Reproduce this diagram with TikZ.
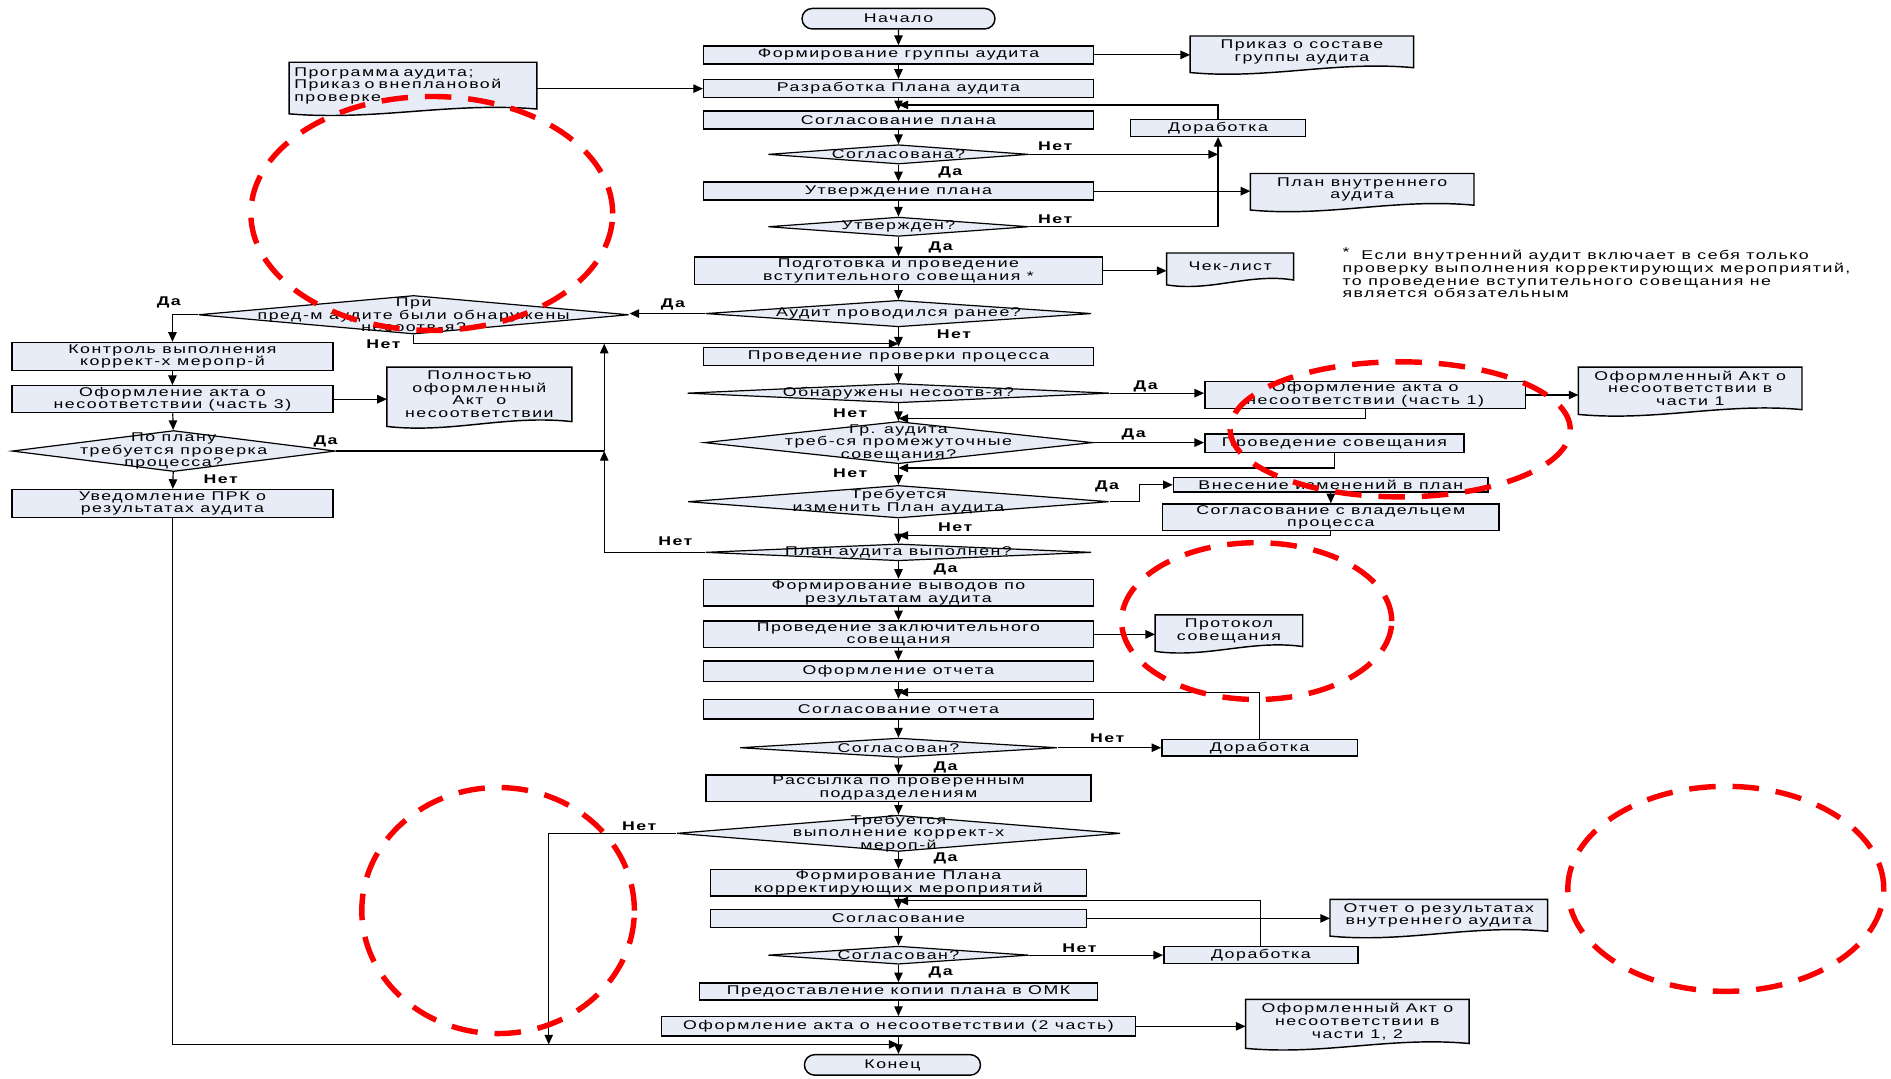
\documentclass[tikz,border=0pt]{standalone}
\usepackage{fontspec}
\newfontfamily\flowfont[FakeStretch=1.4,LetterSpace=12]{Liberation Sans}
\usepackage{tikz}
\usetikzlibrary{arrows.meta,shapes.geometric,shapes.misc,calc,backgrounds}

\definecolor{boxfill}{RGB}{232,236,246}
\definecolor{ringred}{RGB}{250,0,0}

\newcommand{\txt}{\flowfont\fontsize{10.5}{10.5}\selectfont}

% document outline with wavy bottom, drawn round a named node
\newcommand{\wavedoc}[1]{%
  \draw[line width=1.2pt, fill=boxfill] (#1.north west) -- (#1.north east) -- (#1.south east)
    .. controls ($(#1.south east)!0.35!(#1.south west)+(0,-6)$) and ($(#1.south east)!0.65!(#1.south west)+(0,10)$) .. ($(#1.south west)+(0,4)$) -- cycle;}

\tikzset{
  box/.style={draw, fill=boxfill, line width=1.2pt, inner sep=1pt, align=center, font=\txt, minimum height=15pt},
  dia/.style={diamond, draw, fill=boxfill, line width=1pt, inner sep=0pt},
  dtext/.style={font=\txt, align=center, inner sep=0pt},
  doc/.style={inner sep=3pt, align=center, font=\txt},
  term/.style={rounded rectangle, draw, fill=boxfill, line width=1.2pt, font=\txt, minimum height=17pt, inner sep=1pt},
  lbl/.style={font=\txt\bfseries, inner sep=0pt},
  flow/.style={line width=1pt, -{Triangle[length=8pt,width=7pt]}},
  line/.style={line width=1pt},
  ring/.style={draw=ringred, line width=4.5pt, dash pattern=on 22pt off 14pt},
}

\begin{document}
\begin{tikzpicture}[x=1pt,y=-1pt]

    \useasboundingbox (0,0) rectangle (1568,894);

    % main column, top part
    \node[term, minimum width=162pt] (start) at (745,15.5) {Начало};
    \node[box, minimum width=323pt] (team) at (745,45.5) {Формирование группы аудита};
    \node[doc, minimum width=185pt, minimum height=22pt] (teamdoc) at (1079.5,43) {Приказ о составе\\группы аудита};
    \node[doc, text width=197pt, align=left, minimum height=32pt, inner sep=4pt] (progdoc) at (342.5,71) {Программа аудита;\\Приказ о внеплановой\\проверке};
    \node[box, minimum width=323pt] (plan) at (745,73.5) {Разработка Плана аудита};
    \node[box, minimum width=323pt] (agree) at (745,99.5) {Согласование плана};
    \node[box, minimum width=145pt, minimum height=14pt] (rework1) at (1010,106) {Доработка};
    \node[dia, minimum width=216pt, minimum height=16pt, label={[dtext]center:Согласована?}] (qagreed) at (745,128) {};
    \node[box, minimum width=323pt] (approve) at (745,158.5) {Утверждение плана};
    \node[doc, minimum width=185pt, minimum height=20pt] (plandoc) at (1129.5,157) {План внутреннего\\аудита};
    \node[dia, minimum width=216pt, minimum height=16pt, label={[dtext]center:Утвержден?}] (qapproved) at (745,188) {};
    \node[box, minimum width=338pt, minimum height=23pt] (prep) at (745,224.5) {Подготовка и проведение\\вступительного совещания *};
    \node[doc, minimum width=105pt, minimum height=22pt] (checklist) at (1020,221) {Чек-лист};
    \node[font=\txt, align=left, anchor=north west, inner sep=0pt] (note) at (1113,205)
        {\raisebox{3pt}{*}\hspace{10pt}Если внутренний аудит включает в себя только\\проверку выполнения корректирующих мероприятий,\\то проведение вступительного совещания не\\является обязательным};
    \node[dia, minimum width=320pt, minimum height=22pt, label={[dtext]center:Аудит проводился ранее?}] (qearlier) at (745,260) {};
    \node[dia, minimum width=357pt, minimum height=32pt, label={[dtext]center:{При\\пред-м аудите были обнаружены\\несоотв-я?}}] (qprior) at (343,261) {};

    % left column
    \node[box, minimum width=266pt, minimum height=23pt] (control) at (143,295.5) {Контроль выполнения\\коррект-х меропр-й};
    \node[box, minimum width=266pt, minimum height=22pt] (act3) at (143,331) {Оформление акта о\\несоответствии (часть 3)};
    \node[doc, minimum width=153pt, minimum height=42pt] (act3doc) at (397.5,327) {Полностью\\оформленный\\Акт\quad о\\несоответствии};
    \node[dia, minimum width=268pt, minimum height=34pt, label={[dtext]center:{По плану\\требуется проверка\\процесса?}}] (qbyplan) at (144,374) {};
    \node[box, minimum width=266pt, minimum height=23pt] (notify) at (143,417.5) {Уведомление ПРК о\\результатах аудита};

    % main column, audit itself
    \node[box, minimum width=323pt] (check) at (745,295.5) {Проведение проверки процесса};
    \node[dia, minimum width=350pt, minimum height=16pt, label={[dtext]center:Обнаружены несоотв-я?}] (qfound) at (745,326) {};
    \node[box, minimum width=266pt, minimum height=19pt] (act1) at (1132,327.5) {Оформление акта о\\несоответствии (часть 1)};
    \node[doc, minimum width=185pt, minimum height=30pt] (act1doc) at (1401.5,322) {Оформленный Акт о\\несоответствии в\\части 1};
    \node[dia, minimum width=322pt, minimum height=35pt, label={[dtext]center:{Гр. аудита\\треб-ся промежуточные\\совещания?}}] (qmeet) at (745,367) {};
    \node[box, minimum width=215pt] (meet) at (1106.5,367.5) {Проведение совещания};
    \node[dia, minimum width=349pt, minimum height=27pt, label={[dtext]center:{Требуется\\изменить План аудита}}] (qchange) at (745,416) {};
    \node[box, minimum width=261pt, minimum height=12pt] (change) at (1103.5,402) {Внесение изменений в план};
    \node[box, minimum width=279pt, minimum height=20pt] (owner) at (1103.5,429) {Согласование с владельцем\\процесса};
    \node[dia, minimum width=320pt, minimum height=14pt, label={[dtext]center:План аудита выполнен?}] (qdone) at (745,458) {};

    % main column, closing part
    \node[box, minimum width=323pt, minimum height=21pt] (concl) at (745,491.5) {Формирование выводов по\\результатам аудита};
    \node[box, minimum width=323pt, minimum height=22pt] (final) at (745,526) {Проведение заключительного\\совещания};
    \node[doc, minimum width=122pt, minimum height=22pt] (protocol) at (1019,523) {Протокол\\совещания};
    \node[box, minimum width=323pt, minimum height=17pt] (report) at (745,556.5) {Оформление отчета};
    \node[box, minimum width=323pt, minimum height=16pt] (repagree) at (745,588) {Согласование отчета};
    \node[dia, minimum width=263pt, minimum height=16pt, label={[dtext]center:Согласован?}] (qrep) at (745,620) {};
    \node[box, minimum width=162pt, minimum height=14pt] (rework2) at (1044.5,620) {Доработка};
    \node[box, minimum width=319pt, minimum height=21pt] (mailing) at (745,653.5) {Рассылка по проверенным\\подразделениям};
    \node[dia, minimum width=368pt, minimum height=30pt, label={[dtext]center:{Требуется\\выполнение коррект-х\\мероп-й}}] (qcorr) at (745,691) {};
    \node[box, minimum width=312pt, minimum height=20pt] (corrplan) at (745,732) {Формирование Плана\\корректирующих мероприятий};
    \node[box, minimum width=312pt, minimum height=15pt] (corragree) at (745,761.5) {Согласование};
    \node[doc, minimum width=180pt, minimum height=21pt] (repdoc) at (1193,759) {Отчет о результатах\\внутреннего аудита};
    \node[dia, minimum width=216pt, minimum height=15pt, label={[dtext]center:Согласован?}] (qcorragreed) at (745,792) {};
    \node[box, minimum width=161pt, minimum height=14pt] (rework3) at (1045.5,792) {Доработка};
    \node[box, minimum width=330pt, minimum height=14pt] (copyomk) at (745,822) {Предоставление копии плана в ОМК};
    \node[box, minimum width=393pt, minimum height=16pt] (act2) at (745,851) {Оформление акта о несоответствии (2 часть)};
    \node[doc, minimum width=185pt, minimum height=28pt] (act2doc) at (1125.5,847) {Оформленный Акт о\\несоответствии в\\части 1, 2};
    \node[term, minimum width=148pt] (finish) at (740,883) {Конец};

    % wavy documents behind their texts
    \begin{scope}[on background layer]
        \wavedoc{teamdoc}
        \wavedoc{progdoc}
        \wavedoc{plandoc}
        \wavedoc{checklist}
        \wavedoc{act3doc}
        \wavedoc{act1doc}
        \wavedoc{protocol}
        \wavedoc{repdoc}
        \wavedoc{act2doc}
    \end{scope}

    % junctions on the main column
    \coordinate (jplan) at (745,87);
    \coordinate (jcheck) at (745,285);
    \coordinate (jloop) at (501,374);
    \coordinate (jact) at (745,347);
    \coordinate (jmeet) at (745,388);
    \coordinate (jowner) at (745,444);
    \coordinate (jrep) at (745,574);
    \coordinate (jcorr) at (745,747);
    \coordinate (jend) at (745,866);
    \coordinate (jleft) at (455,866);

    \draw[flow] (start) -- (team);
    \draw[flow] (team.east) -- (team.east -| teamdoc.west);
    \draw[flow] (team) -- (plan);
    \draw[flow] (progdoc.east |- plan) -- (plan.west);
    \draw[flow] (plan) -- (agree);
    \draw[flow] (agree) -- (qagreed);
    \draw[flow] (qagreed.east) -- (qagreed -| rework1.south);
    \draw[flow] (qapproved.east) -| (rework1.south);
    \draw[flow] (rework1.north) |- (jplan);
    \draw[flow] (qagreed) -- (approve);
    \draw[flow] (approve.east) -- (approve.east -| plandoc.west);
    \draw[flow] (approve) -- (qapproved);
    \draw[flow] (qapproved) -- (prep);
    \draw[flow] (prep.east) -- (prep.east -| checklist.west);
    \draw[flow] (prep) -- (qearlier);
    \draw[flow] (qearlier.west) -- (qearlier.west -| qprior.east);
    \draw[flow] (qprior.west) -| (control.north);
    \draw[flow] (qprior.south) |- (jcheck);
    \draw[flow] (qearlier) -- (check);

    \draw[flow] (control) -- (act3);
    \draw[flow] (act3.east) -- (act3.east -| act3doc.west);
    \draw[flow] (act3) -- (qbyplan);
    \draw[flow] (qbyplan) -- (notify);
    \draw[line] (qbyplan.east) -- (jloop);
    \draw[flow] (qdone.west) -| (jloop);
    \draw[flow] (jloop) -- (jloop |- jcheck);
    \draw[flow] (notify.south) |- (jend);
    \draw[flow] (qcorr.west) -| (jleft);

    \draw[flow] (check) -- (qfound);
    \draw[flow] (qfound.east) -- (qfound.east -| act1.west);
    \draw[flow] (act1.east) -- (act1.east -| act1doc.west);
    \draw[flow] (act1.south) |- (jact);
    \draw[flow] (qfound) -- (qmeet);
    \draw[flow] (qmeet.east) -- (qmeet.east -| meet.west);
    \draw[flow] (meet.south) |- (jmeet);
    \draw[flow] (qmeet) -- (qchange);
    \draw[flow] (qchange.east) -- ++(25,0) |- (change.west);
    \draw[flow] (change.south) -- (change.south |- owner.north);
    \draw[flow] (owner.south) |- (jowner);
    \draw[flow] (qchange) -- (qdone);

    \draw[flow] (qdone) -- (concl);
    \draw[flow] (concl) -- (final);
    \draw[flow] (final.east) -- (final.east -| protocol.west);
    \draw[flow] (final) -- (report);
    \draw[flow] (report) -- (repagree);
    \draw[flow] (repagree) -- (qrep);
    \draw[flow] (qrep.east) -- (qrep.east -| rework2.west);
    \draw[flow] (rework2.north) |- (jrep);
    \draw[flow] (qrep) -- (mailing);
    \draw[flow] (mailing) -- (qcorr);
    \draw[flow] (qcorr) -- (corrplan);
    \draw[flow] (corrplan) -- (corragree);
    \draw[flow] (corragree.east) -- (corragree.east -| repdoc.west);
    \draw[flow] (rework3.north) |- (jcorr);
    \draw[flow] (corragree) -- (qcorragreed);
    \draw[flow] (qcorragreed.east) -- (qcorragreed.east -| rework3.west);
    \draw[flow] (qcorragreed) -- (copyomk);
    \draw[flow] (copyomk) -- (act2);
    \draw[flow] (act2.east) -- (act2.east -| act2doc.west);
    \draw[flow] (act2) -- (act2 |- finish.north);

    % yes / no
    \node[lbl] (no1) at (875,121) {Нет};
    \node[lbl] (yes1) at (788,143) {Да};
    \node[lbl] (no2) at (875,182) {Нет};
    \node[lbl] (yes2) at (780,205) {Да};
    \node[lbl] (yes3) at (558,252) {Да};
    \node[lbl] (yes4) at (140,251) {Да};
    \node[lbl] (no3) at (318,285) {Нет};
    \node[lbl] (no4) at (791,277) {Нет};
    \node[lbl] (yes5) at (950,320) {Да};
    \node[lbl] (no5) at (705,343) {Нет};
    \node[lbl] (yes6) at (940,360) {Да};
    \node[lbl] (no6) at (705,392) {Нет};
    \node[lbl] (yes7) at (918,403) {Да};
    \node[lbl] (no7) at (792,437) {Нет};
    \node[lbl] (no8) at (560,449) {Нет};
    \node[lbl] (yes8) at (784,472) {Да};
    \node[lbl] (yes9) at (270,366) {Да};
    \node[lbl] (no9) at (183,397) {Нет};
    \node[lbl] (no10) at (918,612) {Нет};
    \node[lbl] (yes10) at (784,636) {Да};
    \node[lbl] (no11) at (530,685) {Нет};
    \node[lbl] (yes11) at (784,712) {Да};
    \node[lbl] (no12) at (895,786) {Нет};
    \node[lbl] (yes12) at (780,806) {Да};

    % red marks on top
    \draw[ring] (358,177) ellipse [x radius=150pt, y radius=97pt];
    \draw[ring] (1161,356) ellipse [x radius=141pt, y radius=56pt];
    \draw[ring] (1042,515) ellipse [x radius=112pt, y radius=65pt];
    \draw[ring] (413,755) ellipse [x radius=113pt, y radius=102pt];
    \draw[ring] (1431,737) ellipse [x radius=131pt, y radius=85pt];

\end{tikzpicture}
\end{document}
